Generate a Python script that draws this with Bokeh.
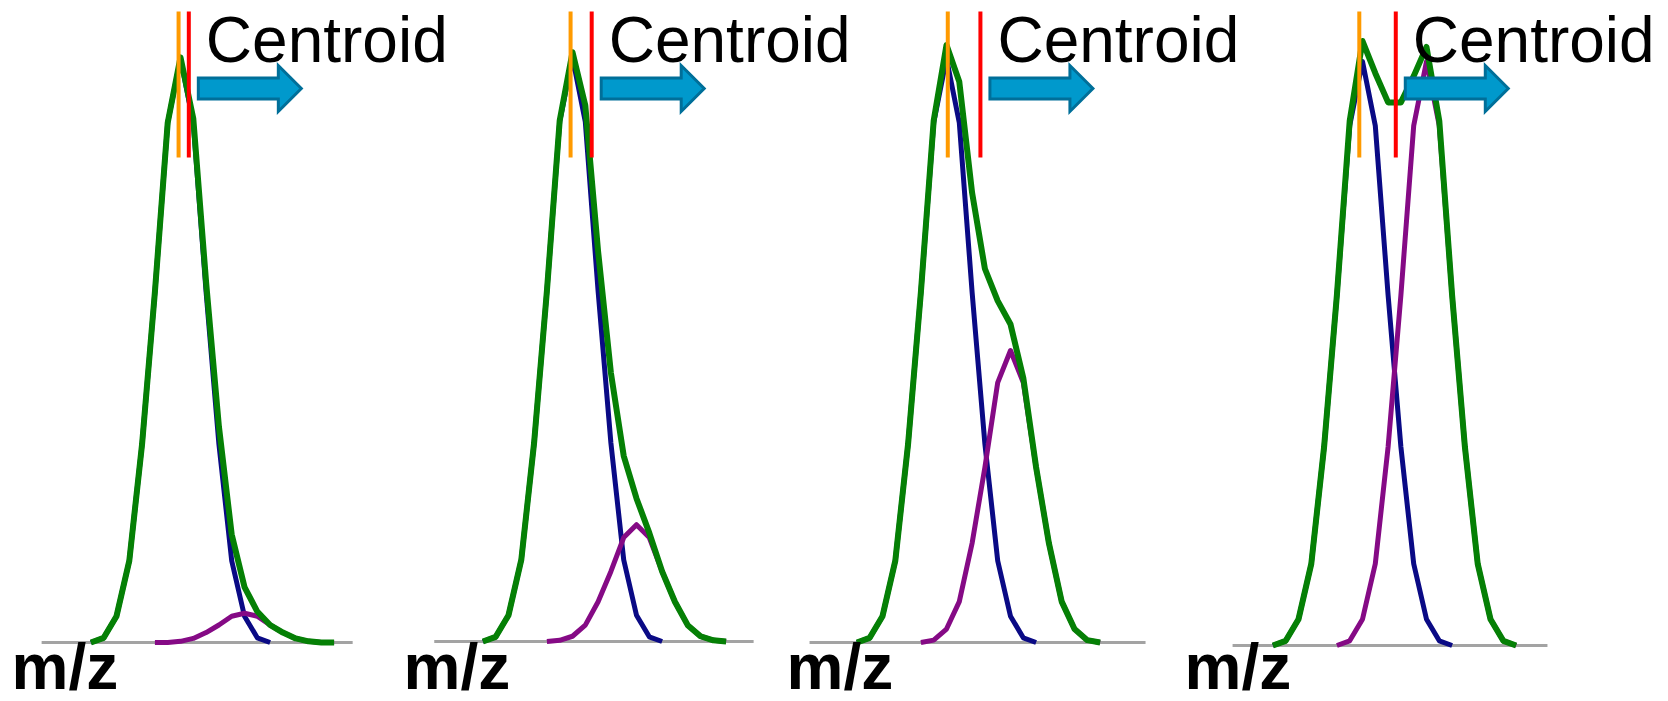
from bokeh.plotting import figure
from bokeh.models import Range1d, Label
from bokeh.embed import file_html
from bokeh.resources import INLINE

# ---------------- data ----------------
# m/z sampling grid (0.2 steps); main peak apex at 500.0, isotope peak at 501.0
MZ_GRID = [498.6, 498.8, 499.0, 499.2, 499.4, 499.6, 499.8, 500.0, 500.2, 500.4,
           500.6, 500.8, 501.0, 501.2, 501.4, 501.6, 501.8, 502.0, 502.2, 502.4]
MAIN_MZ = MZ_GRID[:15]
ISO_MZ = MZ_GRID[5:]

# relative intensity (%) of the main (blue) peak - identical in all panels
main_peak = [0, 0.8, 4.5, 14, 34, 60, 89, 100, 89, 60, 34, 14, 4.5, 0.8, 0]

# second (purple) peak in each panel
iso_p1 = [0, 0.0, 0.2, 0.7, 1.7, 3.0, 4.5, 5.0, 4.5, 3.0, 1.7, 0.7, 0.2, 0.0, 0]
iso_p2 = [0, 0.2, 0.9, 2.8, 6.8, 12, 17.8, 20, 17.8, 12, 6.8, 2.8, 0.9, 0.2, 0]
iso_p3 = [0, 0.4, 2.3, 7, 17, 30, 44.5, 50, 44.5, 30, 17, 7, 2.3, 0.4, 0]
iso_p4 = [0, 0.8, 4.5, 14, 34, 60, 89, 100, 89, 60, 34, 14, 4.5, 0.8, 0]

# measured (green) profile in each panel
sum_p1 = [0, 0.8, 4.5, 14, 34, 60, 89, 100.2, 89.7, 61.7, 37, 18.5, 9.5, 5.3, 3.0, 1.7, 0.7, 0.2, 0.0, 0]
sum_p2 = [0, 0.8, 4.5, 14, 34, 60, 89.2, 100.9, 91.8, 66.8, 46, 31.8, 24.5, 18.6, 12, 6.8, 2.8, 0.9, 0.2, 0]
sum_p3 = [0, 0.8, 4.5, 14, 34, 60, 89.4, 102.3, 96, 77, 64, 58.5, 54.5, 45.3, 30, 17, 7, 2.3, 0.4, 0]
sum_p4 = [0, 0.8, 4.5, 14, 34, 60, 89.8, 103.5, 98, 93, 93, 97.5, 102.5, 89.8, 60, 34, 14, 4.5, 0.8, 0]

# apex (orange) and centroid (red) m/z per panel
apex_mz = [499.97, 499.97, 500.02, 499.95]
centroid_mz = [500.13, 500.30, 500.53, 500.52]

# m/z axis extent per panel
axis_min = [497.83, 497.84, 497.86, 497.97]
axis_max = [502.69, 502.83, 503.11, 502.89]

centroid_label = "Centroid"
axis_label = "m/z"

iso_series = [iso_p1, iso_p2, iso_p3, iso_p4]
sum_series = [sum_p1, sum_p2, sum_p3, sum_p4]

# ---------------- layout / style ----------------
W, H = 1668, 701
PANEL_ANCHOR_PX = [180, 572, 946, 1362]   # pixel x of m/z 500.0 in each panel
BASELINE_PX = [642, 641, 642, 645]        # pixel y (from top) of intensity 0
PX_PER_MZ = 64.0
PX_PER_PCT = 5.84
LABEL_LEFT_PX = [11, 403, 786, 1184]
TEXT_SHIFT_PX = 22                        # font baseline correction for Label
MZ_BASELINE_PX = 688                      # keep the bold label inside the canvas

MARK_TOP_PX, MARK_BOTTOM_PX = 11, 157
ARROW_Y_PX = 88

GREEN = "#058005"
BLUE = "#0a0a85"
PURPLE = "#850a85"
ORANGE = "#ff9a00"
RED = "#ff0000"
BASE_GRAY = "#a3a3a3"
ARROW_FILL = "#0099cc"
ARROW_LINE = "#006f99"

p = figure(width=W, height=H, output_backend="svg", toolbar_location=None,
           x_range=Range1d(0, W), y_range=Range1d(0, H),
           x_axis_location=None, y_axis_location=None, min_border=0)
p.grid.visible = False
p.outline_line_color = None
p.background_fill_color = "white"
p.border_fill_color = "white"

for i in range(4):
    xr, yr = f"px{i}", f"py{i}"
    a, b = PANEL_ANCHOR_PX[i], BASELINE_PX[i]
    p.extra_x_ranges[xr] = Range1d(500.0 - a / PX_PER_MZ, 500.0 + (W - a) / PX_PER_MZ)
    p.extra_y_ranges[yr] = Range1d(-(H - b) / PX_PER_PCT, b / PX_PER_PCT)
    kw = dict(x_range_name=xr, y_range_name=yr)

    # baseline (m/z axis)
    p.line([axis_min[i], axis_max[i]], [0, 0], line_color=BASE_GRAY, line_width=3, **kw)

    # peaks
    p.line(MAIN_MZ, main_peak, line_color=BLUE, line_width=5, line_join="round", **kw)
    p.line(ISO_MZ, iso_series[i], line_color=PURPLE, line_width=5, line_join="round", **kw)
    p.line(MZ_GRID, sum_series[i], line_color=GREEN, line_width=6, line_join="round", **kw)

    # apex and centroid markers
    y_top = (b - MARK_TOP_PX) / PX_PER_PCT
    y_bot = (b - MARK_BOTTOM_PX) / PX_PER_PCT
    p.segment(x0=[apex_mz[i]], y0=[y_bot], x1=[apex_mz[i]], y1=[y_top],
              line_color=ORANGE, line_width=4, **kw)
    p.segment(x0=[centroid_mz[i]], y0=[y_bot], x1=[centroid_mz[i]], y1=[y_top],
              line_color=RED, line_width=4, **kw)

    # block arrow to the right of the centroid
    dx = 1.0 / PX_PER_MZ
    dy = 1.0 / PX_PER_PCT
    x0 = centroid_mz[i] + 9.5 * dx
    yc = (b - ARROW_Y_PX) * dy
    xs = [x0, x0 + 80 * dx, x0 + 80 * dx, x0 + 103 * dx, x0 + 80 * dx, x0 + 80 * dx, x0]
    ys = [yc + 10.5 * dy, yc + 10.5 * dy, yc + 23 * dy, yc, yc - 23 * dy, yc - 10.5 * dy, yc - 10.5 * dy]
    p.patch(xs, ys, fill_color=ARROW_FILL, line_color=ARROW_LINE, line_width=3,
            line_join="miter", **kw)

    # "Centroid" text
    p.add_layout(Label(x=centroid_mz[i], y=H - 61 + TEXT_SHIFT_PX, x_units="data", y_units="screen",
                       x_range_name=xr, x_offset=17, text=centroid_label,
                       text_font="Liberation Sans", text_font_size="64px",
                       text_color="black", text_baseline="alphabetic", text_align="left"))
    # "m/z" text
    p.add_layout(Label(x=LABEL_LEFT_PX[i], y=H - MZ_BASELINE_PX + TEXT_SHIFT_PX,
                       x_units="screen", y_units="screen",
                       text=axis_label, text_font="Liberation Sans", text_font_size="64px",
                       text_font_style="bold", text_color="black",
                       text_baseline="alphabetic", text_align="left"))

open("out.html", "w").write(file_html(p, INLINE))
